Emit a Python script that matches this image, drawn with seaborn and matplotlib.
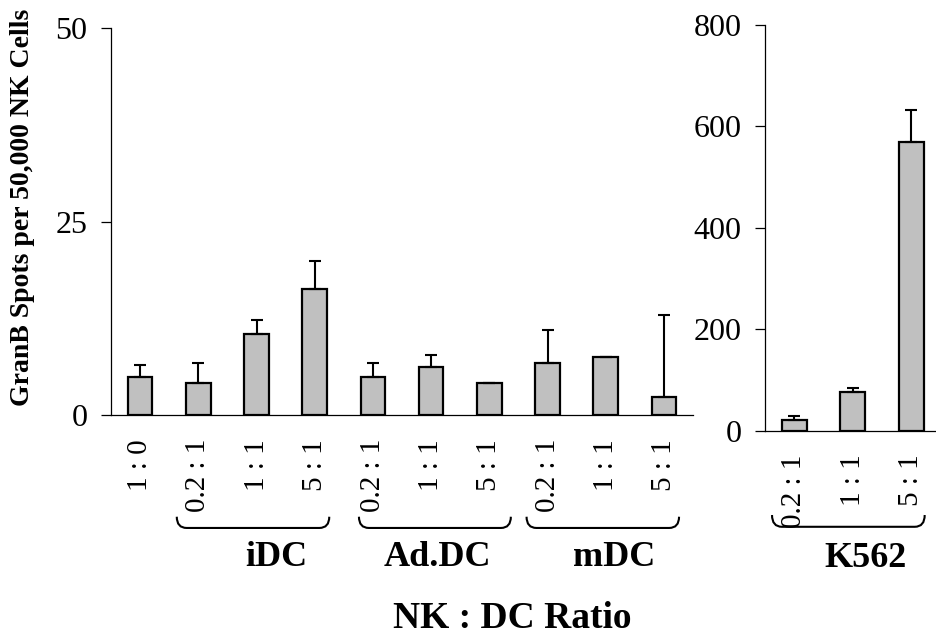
import matplotlib
matplotlib.use("Agg")
import matplotlib.pyplot as plt
import matplotlib.transforms as mtransforms
import numpy as np
import pandas as pd
import seaborn as sns
from matplotlib.patches import PathPatch
from matplotlib.path import Path

# DC co-culture panel (left)
dc_groups = ["NK", "iDC", "iDC", "iDC", "Ad.DC", "Ad.DC", "Ad.DC", "mDC", "mDC", "mDC"]
dc_ratios = ["1 : 0", "0.2 : 1", "1 : 1", "5 : 1", "0.2 : 1", "1 : 1", "5 : 1", "0.2 : 1", "1 : 1", "5 : 1"]
dc_spots = [4.9, 4.2, 10.5, 16.3, 4.9, 6.3, 4.2, 6.7, 7.6, 2.4]
dc_err = [1.6, 2.5, 1.8, 3.6, 1.8, 1.5, 0.0, 4.3, 0.0, 10.5]

# K562 panel (right)
k562_ratios = ["0.2 : 1", "1 : 1", "5 : 1"]
k562_spots = [21, 76, 569]
k562_err = [9, 9, 64]

BAR_COLOR = "#c0c0c0"
TICK_FS = 21

sns.set_style("white")
plt.rcParams["font.family"] = ["Liberation Serif", "DejaVu Serif"]
plt.rcParams["text.color"] = "black"
plt.rcParams["xtick.color"] = "black"
plt.rcParams["ytick.color"] = "black"


def style_axis(ax, yticks, ymax, n):
    ax.set_ylim(0, ymax)
    ax.set_xlim(-0.5, n - 0.5)
    ax.set_yticks(yticks)
    ax.set_xlabel("")
    ax.set_ylabel("")
    for side in ("top", "right"):
        ax.spines[side].set_visible(False)
    for side in ("left", "bottom"):
        ax.spines[side].set_color("black")
        ax.spines[side].set_linewidth(0.9)
    ax.set_xticks(np.arange(-0.5, n), minor=True)
    ax.tick_params(axis="x", which="major", length=0, pad=17, labelsize=TICK_FS, labelrotation=90)
    ax.tick_params(axis="x", which="minor", length=7, width=0.9, direction="out", color="black")
    ax.tick_params(axis="y", length=7, width=0.9, direction="out", color="black",
                   left=True, pad=10, labelsize=TICK_FS + 2)


def draw_bars(ax, labels, values, errs, keys):
    df = pd.DataFrame({"key": keys, "spots": values})
    sns.barplot(data=df, x="key", y="spots", color=BAR_COLOR, saturation=1,
                edgecolor="black", linewidth=1.6, width=0.42, errorbar=None, ax=ax)
    n = len(values)
    ax.errorbar(np.arange(n), values, yerr=[np.zeros(n), errs], fmt="none",
                ecolor="black", elinewidth=1.5, capsize=4.5, capthick=1.5, zorder=1)
    ax.set_xticks(np.arange(n))
    ax.set_xticklabels(labels)


def draw_brace(ax, x0, x1, y_top, y_bot, rx):
    trans = mtransforms.blended_transform_factory(ax.transData, ax.transAxes)
    verts = [(x0, y_top), (x0, y_bot), (x0 + rx, y_bot), (x1 - rx, y_bot),
             (x1, y_bot), (x1, y_top)]
    codes = [Path.MOVETO, Path.CURVE3, Path.CURVE3, Path.LINETO, Path.CURVE3, Path.CURVE3]
    patch = PathPatch(Path(verts, codes), transform=trans, fill=False,
                      edgecolor="black", linewidth=1.5, clip_on=False)
    ax.add_patch(patch)


def group_label(ax, x, y, text):
    trans = mtransforms.blended_transform_factory(ax.transData, ax.transAxes)
    ax.text(x, y, text, transform=trans, ha="center", va="center",
            fontsize=26, fontweight="bold", clip_on=False)


fig = plt.figure(figsize=(9.36, 6.38), dpi=100)
ax1 = fig.add_axes([0.1186, 0.349, 0.6218, 0.6066])
ax2 = fig.add_axes([0.8173, 0.3245, 0.1875, 0.6364])

dc_keys = [f"{g} {r}" for g, r in zip(dc_groups, dc_ratios)]
draw_bars(ax1, dc_ratios, dc_spots, dc_err, dc_keys)
style_axis(ax1, [0, 25, 50], 50, len(dc_spots))

k_keys = [f"K562 {r}" for r in k562_ratios]
draw_bars(ax2, k562_ratios, k562_spots, k562_err, k_keys)
style_axis(ax2, [0, 200, 400, 600, 800], 800, len(k562_spots))

# braces under each target group
for x0, x1 in [(0.63, 3.25), (3.76, 6.37), (6.64, 9.26)]:
    draw_brace(ax1, x0, x1, -0.262, -0.291, 0.17)
draw_brace(ax2, -0.38, 2.23, -0.207, -0.236, 0.17)

group_label(ax1, 2.34, -0.368, "iDC")
group_label(ax1, 5.11, -0.368, "Ad.DC")
group_label(ax1, 8.14, -0.368, "mDC")
group_label(ax2, 1.22, -0.315, "K562")

fig.text(512 / 936, 1 - 618 / 638, "NK : DC Ratio", ha="center", va="center",
         fontsize=27, fontweight="bold")
fig.text(23 / 936, 1 - 207 / 638, "GranB Spots per 50,000 NK Cells", ha="center",
         va="center", rotation=90, fontsize=20, fontweight="bold")

fig.savefig("out.png", dpi=100)
plt.close(fig)
